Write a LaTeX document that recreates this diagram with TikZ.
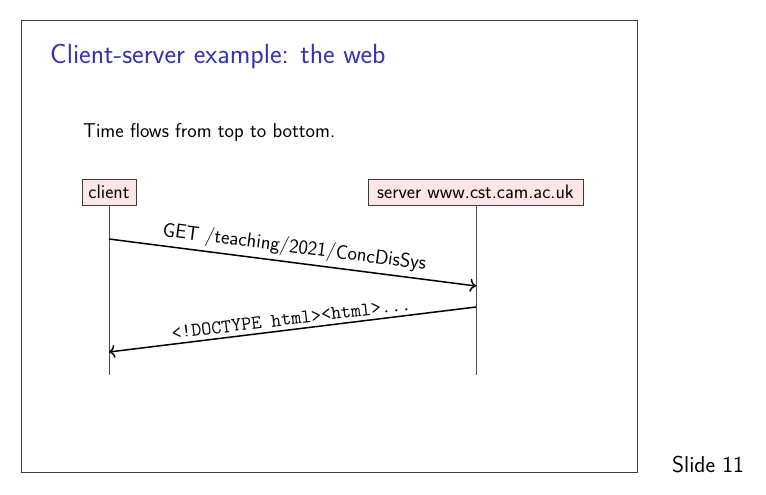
\documentclass[tikz,border=0pt]{standalone}
\usepackage{fontspec}
\usetikzlibrary{arrows.meta}
\definecolor{titleblue}{RGB}{51,51,178}
\definecolor{boxfill}{RGB}{255,230,230}
\definecolor{framegray}{RGB}{60,60,60}
\begin{document}
\begin{tikzpicture}[x=1pt,y=-1pt,
  actor/.style={draw=framegray,fill=boxfill,line width=0.7pt,minimum height=26pt,inner sep=2pt,font=\sffamily\fontsize{19.5}{22}\selectfont},
  lifeline/.style={draw=black!70,line width=0.7pt},
  msg/.style={draw=black,line width=1.5pt,-{To[length=6pt,width=13pt]}},
  msglabel/.style={sloped,above,inner sep=4pt}]
\useasboundingbox (0,0) rectangle (766,495);
\draw[framegray,line width=0.8pt] (21,20) rectangle (637,472);
\node[anchor=west,inner sep=0pt,text=titleblue,font=\sffamily\fontsize{27.7}{32}\selectfont] (title) at (50,57) {Client-server example: the web};
\node[anchor=west,inner sep=0pt,font=\sffamily\fontsize{20}{24}\selectfont] (intro) at (83,132) {Time flows from top to bottom.};
\node[actor,minimum width=54pt] (client) at (109,192) {client};
\node[actor,minimum width=215pt] (server) at (475.5,192) {server www.cst.cam.ac.uk};
\coordinate (cend) at (109,375);
\coordinate (send) at (476,375);
\draw[lifeline] (client.south) -- (cend);
\draw[lifeline] (server.south -| send) -- (send);
\coordinate (c1) at (109,239);
\coordinate (s1) at (476,286);
\coordinate (s2) at (476,307);
\coordinate (c2) at (109,352);
\draw[msg] (c1) -- node[msglabel,font=\sffamily\fontsize{20}{24}\selectfont] {GET /teaching/2021/ConcDisSys} (s1);
\draw[msg] (s2) -- node[msglabel,font=\ttfamily\fontsize{19.5}{23}\selectfont] {<!DOCTYPE html><html>...} (c2);
\node[anchor=west,inner sep=0pt,font=\sffamily\fontsize{23}{27}\selectfont] (slide) at (672,465) {Slide 11};
\end{tikzpicture}
\end{document}
